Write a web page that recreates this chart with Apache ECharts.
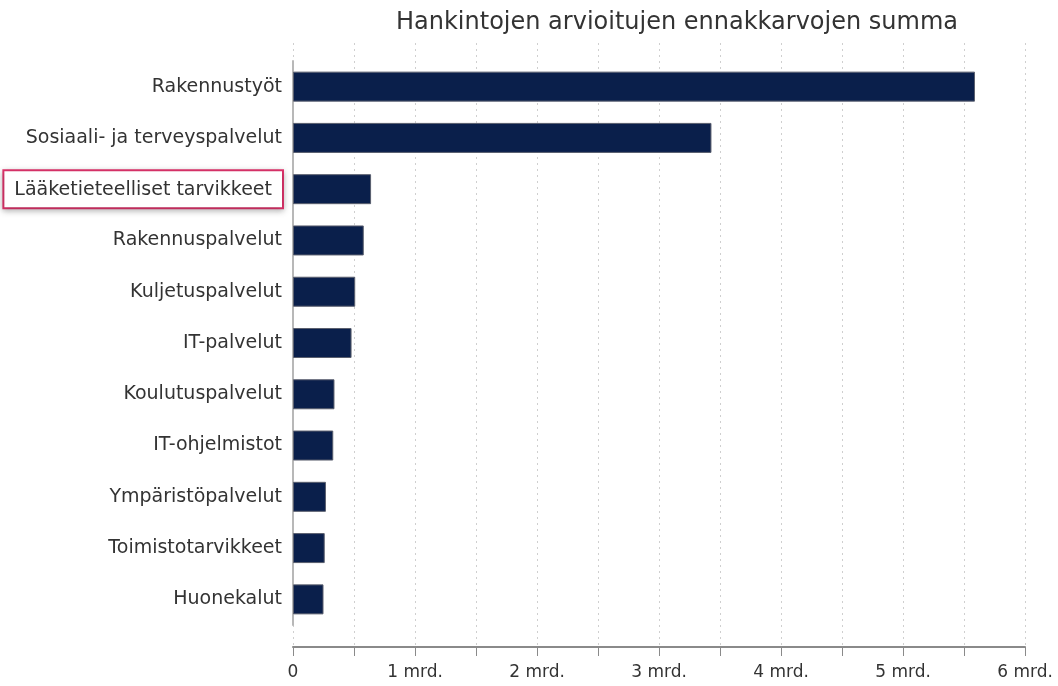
<!DOCTYPE html>
<html>
<head>
<meta charset="utf-8">
<script src="https://cdn.jsdelivr.net/npm/echarts@6/dist/echarts.min.js"></script>
<style>
  html, body { margin: 0; padding: 0; background: #fff; }
  #chart1 { width: 1058px; height: 686px; }
</style>
</head>
<body>
<div id="chart1"></div>
<script>
// hankintaluokat, ylhäältä alas
var categories = ['Rakennustyöt', 'Sosiaali- ja terveyspalvelut', 'Lääketieteelliset tarvikkeet',
  'Rakennuspalvelut', 'Kuljetuspalvelut', 'IT-palvelut', 'Koulutuspalvelut', 'IT-ohjelmistot',
  'Ympäristöpalvelut', 'Toimistotarvikkeet', 'Huonekalut'];
// ennakkoarvojen summa, mrd. euroa
var values = [5.59, 3.43, 0.64, 0.58, 0.51, 0.48, 0.34, 0.33, 0.27, 0.26, 0.25];
var highlighted = 'Lääketieteelliset tarvikkeet';
var tickLabels = ['0', '1 mrd.', '2 mrd.', '3 mrd.', '4 mrd.', '5 mrd.', '6 mrd.'];

var font = 'DejaVu Sans';
var myChart = echarts.init(document.getElementById('chart1'));

option = {
  animation: false,
  textStyle: { fontFamily: font },
  title: {
    text: 'Hankintojen arvioitujen ennakkarvojen summa',
    left: 672,
    textAlign: 'center',
    top: 6,
    textStyle: { fontFamily: font, fontSize: 24, fontWeight: 'normal', color: '#333' }
  },
  grid: [
    { left: 293, right: 33, top: 61, bottom: 61, outerBoundsMode: 'none' },   // palkit
    { left: 293, right: 33, top: 43, bottom: 39, outerBoundsMode: 'none' }    // akseli + ruudukko
  ],
  xAxis: [
    { gridIndex: 0, type: 'value', min: 0, max: 6, show: false },
    {
      gridIndex: 1, type: 'value', min: 0, max: 6, interval: 0.5,
      axisLine: { show: true, lineStyle: { color: '#8a8a8a', width: 2 } },
      axisTick: { show: true, length: 9, lineStyle: { color: '#8a8a8a', width: 1 } },
      axisLabel: {
        margin: 17, fontSize: 17, color: '#333', fontFamily: font,
        formatter: function (v) {
          return Number.isInteger(v) ? tickLabels[v] : '';
        }
      },
      splitLine: { show: true, lineStyle: { color: '#cfcfcf', type: [2, 4], width: 1 } }
    }
  ],
  yAxis: [
    {
      gridIndex: 0, type: 'category', data: categories, inverse: true,
      axisLine: { show: true, lineStyle: { color: '#b8b8b8', width: 2 } },
      axisTick: { show: false },
      axisLabel: {
        margin: 11, fontSize: 19, color: '#333', fontFamily: font,
        formatter: function (v) {
          return v === highlighted ? '{hl|' + v + '}' : v;
        },
        rich: {
          hl: {
            fontSize: 19, color: '#333', fontFamily: font,
            borderColor: '#e0346c', borderWidth: 2,
            padding: [9, 10, 8, 10],
            backgroundColor: '#fff',
            shadowColor: 'rgba(0,0,0,0.25)', shadowBlur: 6, shadowOffsetY: 2
          }
        }
      }
    },
    { gridIndex: 1, type: 'value', show: false, min: 0, max: 1 }
  ],
  series: [
    {
      name: 'Ennakkoarvo',
      type: 'bar',
      xAxisIndex: 0,
      yAxisIndex: 0,
      barWidth: 30,
      itemStyle: { color: '#0a1f4b', borderColor: '#5a5f6e', borderWidth: 1 },
      data: values
    }
  ]
};
myChart.setOption(option);
</script>
</body>
</html>
